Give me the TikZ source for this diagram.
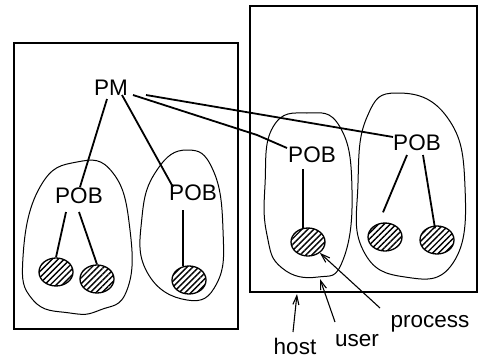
\documentclass[tikz,border=0pt]{standalone}
\usepackage{fontspec}
\setmainfont{Liberation Sans}
\usetikzlibrary{shapes.geometric,arrows.meta,patterns.meta,calc}
\begin{document}
\begin{tikzpicture}[x=1pt,y=-1pt,
  lbl/.style={font=\fontsize{22.5}{22.5}\selectfont, inner sep=0pt, anchor=base},
  hostbox/.style={line width=2pt},
  userblob/.style={line width=1pt},
  link/.style={line width=1.8pt, line join=round},
  proc/.style={ellipse, draw, line width=1.3pt, minimum width=34pt, minimum height=28pt, inner sep=0pt,
    pattern={Lines[angle=45,distance=4.2pt,line width=1.4pt]}},
  callout/.style={line width=1.1pt, -{Straight Barb[length=9pt,width=6pt]}}
]
\useasboundingbox (0,0) rectangle (479,359);
% hosts
\draw[hostbox] (14,43) rectangle (238,329);
\draw[hostbox] (250,6) rectangle (477,292);
% users
\draw[userblob] plot[smooth cycle, tension=0.8] coordinates {(77,162) (113,173) (130,230) (127,290) (100,310) (70,313) (33,300) (23,257) (40,187)};
\draw[userblob] plot[smooth cycle, tension=0.8] coordinates {(187,150) (213,170) (223,230) (217,283) (187,300) (147,272) (142,217) (157,170)};
\draw[userblob] plot[smooth cycle, tension=0.8] coordinates {(307,113) (340,127) (352,190) (343,260) (318,277) (282,268) (267,235) (265,185) (273,127)};
\draw[userblob] plot[smooth cycle, tension=0.8] coordinates {(397,93) (447,117) (465,187) (453,263) (405,277) (363,250) (358,183) (367,117)};
% labels
\node[lbl] (pm) at (111,95) {PM};
\node[lbl] (pob1) at (79,203) {POB};
\node[lbl] (pob2) at (193,200) {POB};
\node[lbl] (pob3) at (312,162) {POB};
\node[lbl] (pob4) at (417,150) {POB};
% processes
\node[proc] (h1) at (56,272) {};
\node[proc] (h2) at (97,279) {};
\node[proc] (h3) at (189,280) {};
\node[proc] (h4) at (308,242) {};
\node[proc] (h5) at (385,237) {};
\node[proc] (h6) at (437,240) {};
% links
\draw[link] ($(pm.base)+(-4,4)$) -- ($(pob1.base)+(1,-16)$);
\draw[link] ($(pm.base)+(11,0)$) -- ($(pob2.base)+(-20,-13)$);
\draw[link] ($(pm.base)+(22,0)$) -- (257,135) -- ($(pob3.base)+(-25,-14)$);
\draw[link] ($(pm.base)+(35,0)$) -- ($(pob4.base)+(-24,-13)$);
\draw[link] ($(pob1.base)+(-13,9)$) -- (h1.north);
\draw[link] ($(pob1.base)+(0,9)$) -- (h2.north);
\draw[link] ($(pob2.base)+(-10,10)$) -- ($(h3.north)+(-6,1)$);
\draw[link] ($(pob3.base)+(-9,7)$) -- ($(h4.north)+(-5,1)$);
\draw[link] ($(pob4.base)+(-10,5)$) -- ($(h5.north)+(-2,-10)$);
\draw[link] ($(pob4.base)+(6,5)$) -- ($(h6.north)+(-2,3)$);
% callouts
\node[lbl] (lproc) at (430,327) {process};
\node[lbl] (luser) at (357,346) {user};
\node[lbl] (lhost) at (295,354) {host};
\coordinate (ublob) at (320,279);
\coordinate (hedge) at (297,294);
\draw[callout] ($(lproc.base)+(-50,-19)$) -- (h4);
\draw[callout] ($(luser.base)+(-22,-24)$) -- (ublob);
\draw[callout] ($(lhost.base)+(-2,-22)$) -- (hedge);
\end{tikzpicture}
\end{document}
